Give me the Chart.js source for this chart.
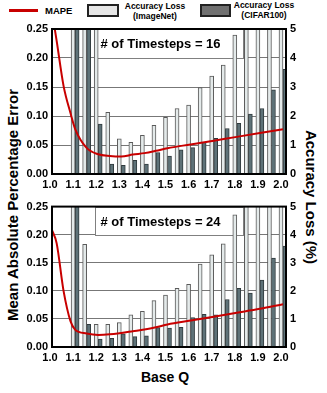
<!DOCTYPE html>
<html><head><meta charset="utf-8">
<script src="https://cdn.jsdelivr.net/npm/chart.js@4/dist/chart.umd.min.js"></script>
<style>
html,body{margin:0;padding:0;background:#fff;}
body{width:327px;height:393px;position:relative;overflow:hidden;font-family:"Liberation Sans",Arial,sans-serif;font-weight:bold;color:#000;}
.abs{position:absolute;white-space:nowrap;}
canvas{position:absolute;left:0;}
</style></head><body>
<!-- legend -->
<div class="abs" style="left:9px;top:9px;width:29px;height:3px;background:#c80000"></div>
<div class="abs" style="left:45px;top:5px;font-size:9.5px;line-height:11px">MAPE</div>
<div class="abs" style="left:87px;top:4px;width:32px;height:13px;box-sizing:border-box;border:2px solid #222;background:#e6e6e6"></div>
<div class="abs" style="left:120px;top:1px;width:70px;text-align:center;font-size:8.5px;line-height:10px">Accuracy Loss<br>(ImageNet)</div>
<div class="abs" style="left:200px;top:4px;width:31px;height:13px;box-sizing:border-box;border:2px solid #222;background:#707070"></div>
<div class="abs" style="left:229px;top:0px;width:70px;text-align:center;font-size:8.5px;line-height:10px">Accuracy Loss<br>(CIFAR100)</div>
<!-- axis titles -->
<div class="abs" style="left:12px;top:205px;font-size:15px;transform:translate(-50%,-50%) rotate(-90deg)">Mean Absolute Percentage Error</div>
<div class="abs" style="left:311px;top:197px;font-size:15px;transform:translate(-50%,-50%) rotate(90deg)">Accuracy Loss (%)</div>
<div class="abs" style="left:165px;top:377px;font-size:14px;transform:translate(-50%,-50%)">Base Q</div>

<canvas id="c1" width="327" height="196" style="top:0"></canvas>
<canvas id="c2" width="327" height="197" style="top:196px"></canvas>
<script>
// ---- data ----
const baseQ = [1.1,1.15,1.2,1.25,1.3,1.35,1.4,1.45,1.5,1.55,1.6,1.65,1.7,1.75,1.8,1.85,1.9,1.95,2.0];
// 16 timesteps (values above 5 are cut off at the top of the plot)
const imagenetLoss16 = [6,6,6,2.13,1.21,1.09,1.33,1.68,1.95,2.26,2.38,2.98,3.38,3.76,4.79,6,6,6,6];
const cifarLoss16    = [6,6,1.72,0.34,0.30,0.47,0.34,0.74,0.62,0.83,0.91,1.09,1.23,1.57,1.75,2.07,2.26,2.90,3.61];
// 24 timesteps
const imagenetLoss24 = [6,3.66,0.81,0.81,0.87,1.15,1.27,1.65,1.85,2.09,2.23,2.95,3.28,3.67,4.71,6,6,6,6];
const cifarLoss24    = [6,0.81,0.28,0.31,0.47,0.37,0.40,0.69,0.67,0.70,1.05,1.16,1.15,1.69,2.09,1.92,2.38,3.17,3.59];
// MAPE curves
const mapeQ  = [1.0,1.02,1.05,1.08,1.1,1.15,1.2,1.25,1.3,1.35,1.4,1.45,1.5,1.6,1.7,1.8,1.9,2.0];
const mape16 = [0.28,0.23,0.152,0.105,0.078,0.045,0.034,0.031,0.030,0.0335,0.036,0.040,0.0445,0.051,0.0575,0.064,0.0705,0.077];
const mape24 = [0.208,0.185,0.100,0.046,0.031,0.024,0.0215,0.0225,0.025,0.028,0.031,0.035,0.040,0.047,0.054,0.061,0.068,0.076];
// ticks
const xTicks = [1.0,1.1,1.2,1.3,1.4,1.5,1.6,1.7,1.8,1.9,2.0];
const mapeTicks = [0,0.05,0.10,0.15,0.20,0.25];
const lossTicks = [0,1,2,3,4,5];

const FONT = {family:'"Liberation Sans", Arial, sans-serif', weight:'bold', size:11};

const boxPlugin = {
  id:'tsbox',
  beforeDatasetsDraw(chart, args, opts){
    const {ctx, scales:{x, y}} = chart;
    const l = Math.round(x.getPixelForValue(opts.x0))+0.5, r = Math.round(x.getPixelForValue(opts.x1))+0.5;
    const t = Math.round(y.getPixelForValue(opts.yTop))+0.5, b = Math.round(y.getPixelForValue(opts.yBottom))+0.5;
    ctx.save();
    ctx.fillStyle = '#fff';
    ctx.fillRect(l, t, r-l, b-t);
    ctx.strokeStyle = '#808080'; ctx.lineWidth = 1;
    ctx.strokeRect(l, t, r-l, b-t);
    ctx.fillStyle = '#000';
    ctx.font = 'bold 13px "Liberation Sans", Arial, sans-serif';
    ctx.textBaseline = 'middle'; ctx.textAlign = 'left';
    ctx.fillText(opts.label, l+5, (t+b)/2+0.5);
    ctx.restore();
  },
  afterDatasetsDraw(chart){
    const {ctx, chartArea:a} = chart;
    ctx.save();
    ctx.strokeStyle = '#000'; ctx.lineWidth = 2;
    ctx.strokeRect(a.left, a.top, a.right-a.left, a.bottom-a.top);
    ctx.restore();
  }
};

function makeChart(id, imagenet, cifar, mape, label, padTop, xAxisH){
  const pts = arr => baseQ.map((q,i)=>({x:q, y:arr[i]}));
  return new Chart(document.getElementById(id), {
    type:'bar',
    data:{datasets:[
      {type:'line', label:'MAPE', data:mapeQ.map((q,i)=>({x:q,y:mape[i]})), yAxisID:'y',
       borderColor:'#c80000', borderWidth:2, pointRadius:0, cubicInterpolationMode:'monotone', order:0},
      {label:'Accuracy Loss (ImageNet)', data:pts(imagenet), yAxisID:'y2',
       backgroundColor:'#e4eaea', borderColor:'#5a5a5a', borderWidth:1, barThickness:4, order:1},
      {label:'Accuracy Loss (CIFAR100)', data:pts(cifar), yAxisID:'y2',
       backgroundColor:'#5e7278', borderColor:'#2f3a3d', borderWidth:1, barThickness:4, order:1}
    ]},
    options:{
      responsive:false, animation:false, devicePixelRatio:1,
      layout:{padding:{top:padTop,left:0,right:0,bottom:0}},
      plugins:{legend:{display:false}, tooltip:{enabled:false},
        tsbox:{label, x0:1.186, x1:1.827, yTop:0.25, yBottom:0.20}},
      scales:{
        x:{type:'linear', min:1.0, max:2.013, offset:false,
           grid:{display:false, drawTicks:false}, border:{display:false},
           afterBuildTicks:s=>{s.ticks = xTicks.map(v=>({value:v}));},
           afterFit:s=>{s.height = xAxisH;},
           ticks:{font:FONT, color:'#000', padding:4, labelOffset:-2, maxRotation:0, autoSkip:false,
                  callback:v=>Number(v).toFixed(1)}},
        y:{type:'linear', position:'left', min:0, max:0.25,
           grid:{color:'#777', lineWidth:1, drawTicks:false}, border:{display:false},
           afterBuildTicks:s=>{s.ticks = mapeTicks.map(v=>({value:v}));},
           afterFit:s=>{s.width = 52;},
           ticks:{font:FONT, color:'#000', padding:4, callback:v=>Number(v).toFixed(2)}},
        y2:{type:'linear', position:'right', min:0, max:5,
           grid:{display:false, drawTicks:false}, border:{display:false},
           afterBuildTicks:s=>{s.ticks = lossTicks.map(v=>({value:v}));},
           afterFit:s=>{s.width = 41;},
           ticks:{font:FONT, color:'#000', padding:4}}
      }
    },
    plugins:[boxPlugin]
  });
}
makeChart('c1', imagenetLoss16, cifarLoss16, mape16, '# of Timesteps = 16', 29, 22);
makeChart('c2', imagenetLoss24, cifarLoss24, mape24, '# of Timesteps = 24', 8, 46);
</script>
</body></html>
